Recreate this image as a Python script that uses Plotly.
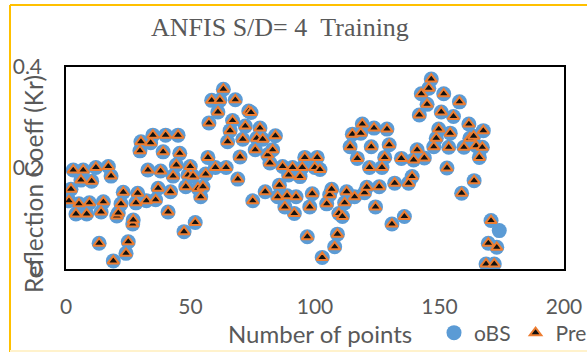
import plotly.graph_objects as go

# Observed data (x = point number, y = reflection coefficient)
x_pts = [1.2, 2.0, 2.9, 4.0, 5.2, 6.0, 6.9, 8.3, 9.4, 10.3, 12.0, 13.3, 14.1, 15.0, 17.0, 18.1, 19.0,
         20.4, 21.0, 22.1, 23.0, 24.1, 25.0, 26.8, 27.0, 28.1, 28.8, 29.7, 30.1, 32.3, 32.9, 34.0,
         34.9, 36.0, 37.0, 38.0, 39.0, 40.0, 41.0, 42.0, 43.0, 44.3, 45.0, 45.7, 47.4, 48.1, 49.0,
         49.9, 51.0, 51.9, 53.0, 54.1, 55.0, 56.1, 57.0, 57.4, 58.5, 60.0, 61.0, 61.8, 63.2, 64.3,
         64.9, 65.9, 66.9, 68.0, 69.0, 69.9, 71.0, 72.0, 73.4, 74.3, 75.0, 76.0, 76.6, 77.9, 79.0,
         80.0, 81.0, 81.9, 83.0, 84.1, 85.0, 85.7, 87.0, 87.9, 88.8, 89.4, 91.0, 91.7, 92.4, 94.0,
         94.9, 95.9, 96.9, 97.9, 98.9, 99.9, 100.9, 102.0, 102.9, 104.7, 105.9, 106.7, 107.9, 109.0,
         109.6, 111.0, 111.9, 112.7, 114.1, 115.0, 115.9, 117.0, 118.4, 119.0, 119.9, 120.8, 121.9,
         122.6, 123.7, 124.3, 125.8, 126.9, 128.0, 128.9, 129.8, 130.9, 132.0, 134.7, 135.9, 137.6,
         139.0, 139.6, 141.0, 141.9, 142.7, 143.9, 145.0, 145.7, 146.7, 147.7, 148.7, 149.7, 150.7,
         151.7, 153.0, 153.7, 154.3, 155.6, 158.0, 158.9, 159.8, 161.8, 162.2, 163.7, 163.9, 164.7,
         166.0, 167.2, 167.6, 168.7, 169.6, 170.7, 172.0, 173.0, 174.0]

obs = [0.135, 0.158, 0.196, 0.109, 0.129, 0.176, 0.196, 0.109, 0.131, 0.174, 0.201, 0.051, 0.113,
       0.133, 0.203, 0.184, 0.016, 0.105, 0.111, 0.129, 0.152, 0.031, 0.054, 0.089, 0.097, 0.131,
       0.150, 0.234, 0.252, 0.135, 0.196, 0.250, 0.265, 0.137, 0.160, 0.194, 0.232, 0.265, 0.113,
       0.153, 0.184, 0.206, 0.265, 0.229, 0.074, 0.163, 0.186, 0.203, 0.184, 0.092, 0.160, 0.143,
       0.163, 0.188, 0.221, 0.289, 0.334, 0.201, 0.311, 0.334, 0.356, 0.201, 0.252, 0.274, 0.294,
       0.335, 0.178, 0.222, 0.257, 0.283, 0.313, 0.310, 0.135, 0.236, 0.259, 0.279, 0.257, 0.153,
       0.226, 0.210, 0.236, 0.264, 0.143, 0.166, 0.203, 0.123, 0.145, 0.186, 0.201, 0.110, 0.143,
       0.183, 0.201, 0.221, 0.064, 0.123, 0.149, 0.201, 0.221, 0.197, 0.023, 0.129, 0.147, 0.158,
       0.044, 0.069, 0.110, 0.104, 0.131, 0.153, 0.242, 0.267, 0.143, 0.219, 0.269, 0.287, 0.151,
       0.162, 0.201, 0.242, 0.279, 0.123, 0.163, 0.201, 0.221, 0.277, 0.246, 0.089, 0.170, 0.219,
       0.104, 0.170, 0.183, 0.216, 0.236, 0.305, 0.347, 0.220, 0.326, 0.358, 0.376, 0.242, 0.259,
       0.277, 0.311, 0.347, 0.200, 0.241, 0.269, 0.302, 0.331, 0.150, 0.241, 0.287, 0.259, 0.263,
       0.175, 0.244, 0.221, 0.241, 0.274, 0.010, 0.051, 0.096, 0.010, 0.043, 0.076]

# Predicted values coincide with the observed ones; last point has no prediction
pre = obs[:-1] + [None]

x_ticks = [0, 50, 100, 150, 200]
y_ticks = [0, 0.2, 0.4]
y_tick_text = ["0", "0.2", "0.4"]

GRAY = "#595959"
FONT = "Lato"

fig = go.Figure()
fig.add_trace(go.Scatter(
    x=x_pts, y=obs, mode="markers", name="oBS",
    marker=dict(symbol="circle", size=15, color="#5B9BD5", line=dict(width=0)),
))
fig.add_trace(go.Scatter(
    x=x_pts, y=pre, mode="markers", name="Pre",
    marker=dict(symbol="triangle-up", size=10, color="#111111",
                line=dict(color="#ED7D31", width=2)),
))

L, R, T, B = 66, 23, 67, 83
W, H = 587, 352
pw, ph = W - L - R, H - T - B

def px(xp):
    return (xp - L) / pw

def py(yp):
    return (H - B - yp) / ph

fig.update_layout(
    width=W, height=H,
    margin=dict(l=L, r=R, t=T, b=B, autoexpand=False),
    paper_bgcolor="white", plot_bgcolor="white",
    font=dict(family=FONT, color=GRAY, size=20),
    showlegend=True,
    legend=dict(orientation="h", x=px(434), y=py(333), xanchor="left", yanchor="middle",
                font=dict(size=21, color=GRAY, family=FONT), bgcolor="rgba(0,0,0,0)",
                itemwidth=30, tracegroupgap=0),
    xaxis=dict(range=[0, 200], tickvals=x_ticks, showgrid=False, zeroline=False,
               showline=True, linecolor="black", linewidth=1.5, mirror=True,
               ticks="", ticklabelstandoff=18, tickfont=dict(size=21, color=GRAY, family=FONT)),
    yaxis=dict(range=[0, 0.4], tickvals=y_ticks, ticktext=y_tick_text, showgrid=False,
               zeroline=False, showline=True, linecolor="black", linewidth=1.5, mirror=True,
               ticks="", ticklabelstandoff=18, tickfont=dict(size=21, color=GRAY, family=FONT)),
    annotations=[
        dict(text="ANFIS S/D= 4\u00a0\u00a0Training", xref="paper", yref="paper",
             x=px(280), y=py(27), xanchor="center", yanchor="middle", showarrow=False,
             font=dict(family="Liberation Serif", size=26, color=GRAY)),
        dict(text="Reflection Coeff (Kr)", xref="paper", yref="paper", textangle=-90,
             x=px(33), y=py(184), xanchor="center", yanchor="middle", showarrow=False,
             font=dict(family=FONT, size=24.5, color=GRAY)),
        dict(text="Number of points", xref="paper", yref="paper",
             x=px(320), y=py(333), xanchor="center", yanchor="middle", showarrow=False,
             font=dict(family=FONT, size=24, color=GRAY)),
    ],
    shapes=[
        dict(type="line", xref="paper", yref="paper", x0=px(10), x1=px(10), y0=py(5), y1=py(352),
             line=dict(color="#FFC000", width=2)),
        dict(type="line", xref="paper", yref="paper", x0=px(10), x1=px(600), y0=py(5), y1=py(5),
             line=dict(color="#FFC000", width=2)),
        dict(type="line", xref="paper", yref="paper", x0=px(10), x1=px(600), y0=py(351), y1=py(351),
             line=dict(color="#FFF2CC", width=2)),
    ],
)

fig.write_html("out.html", config={"displayModeBar": False},
               post_script="document.body.style.margin='0';document.body.style.padding='0';")
